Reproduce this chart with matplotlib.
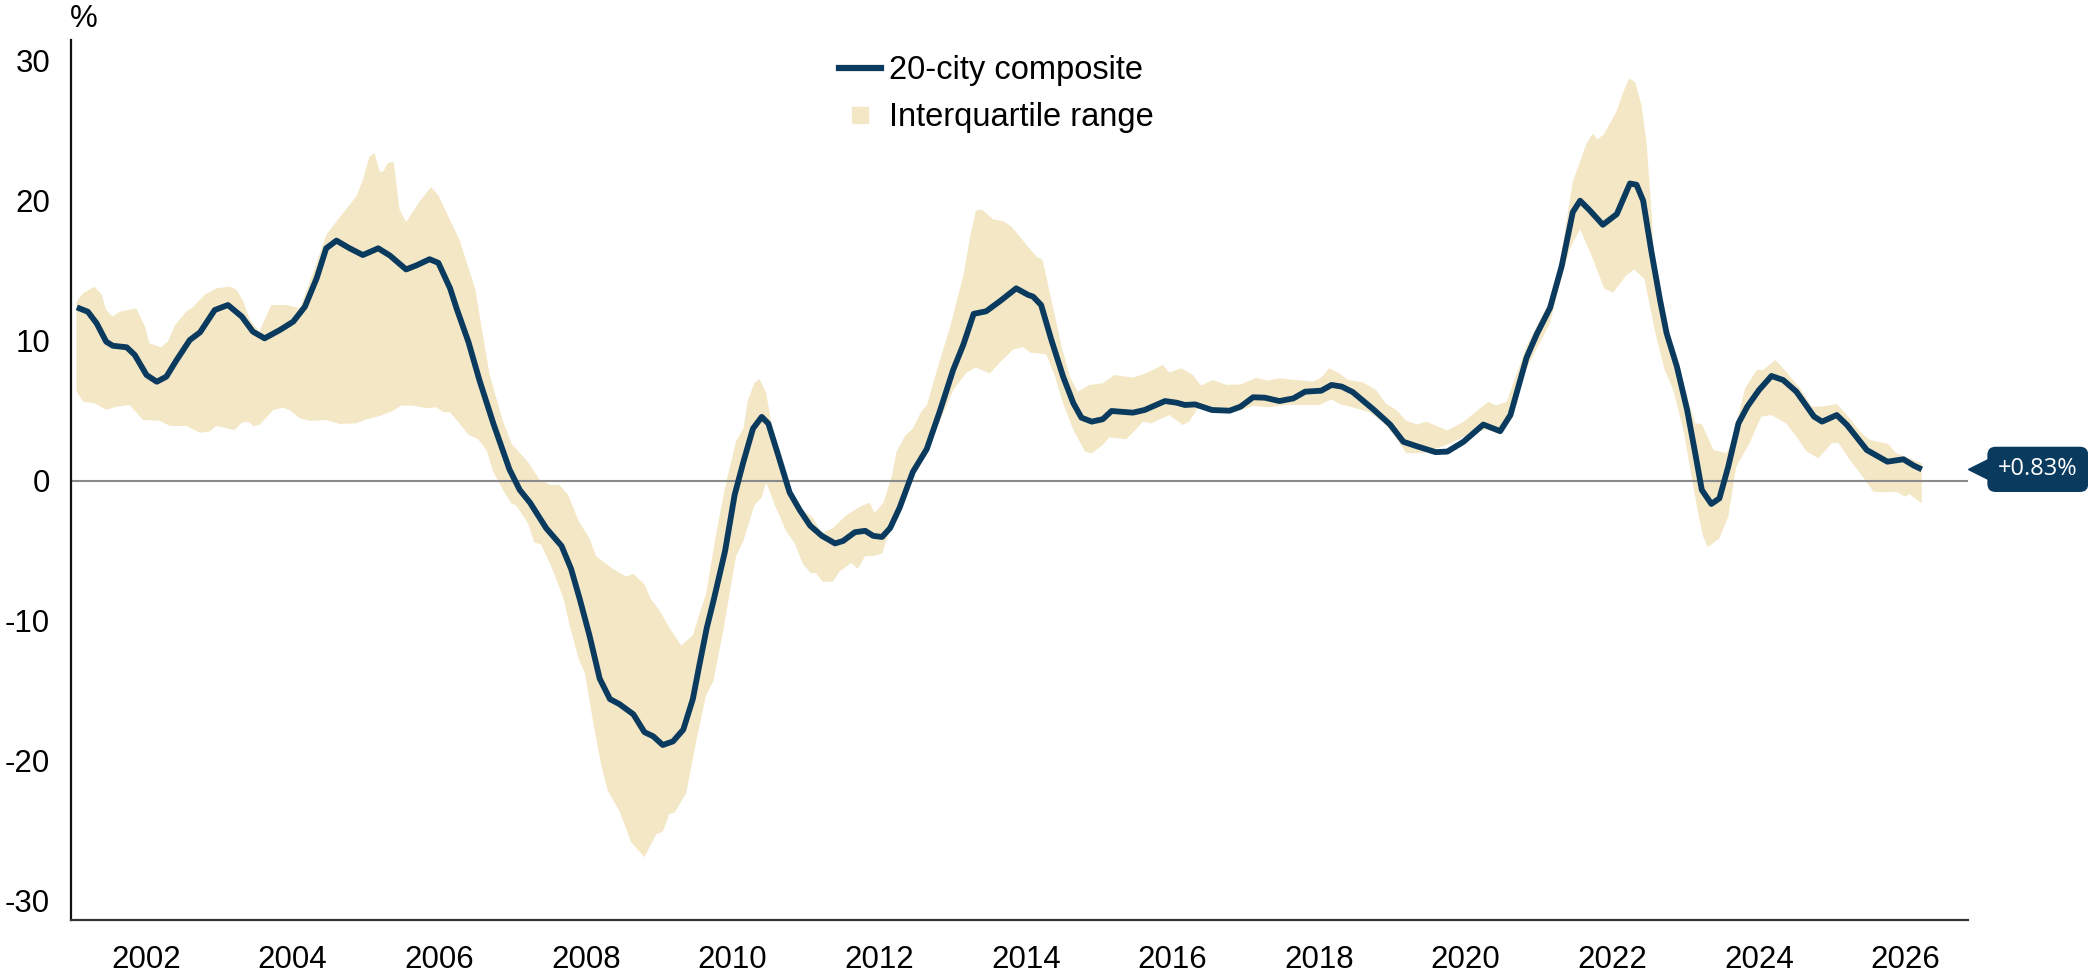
import numpy as np
import matplotlib
matplotlib.use("Agg")
import matplotlib.pyplot as plt
from matplotlib.lines import Line2D
from matplotlib.transforms import blended_transform_factory

plt.rcParams['font.family'] = ['Liberation Sans', 'DejaVu Sans']

NAVY = '#0b3a5f'
SAND = '#f3e7c5'

# 20-city composite, y/y % (x = fractional year)
comp_x = [2001.06, 2001.21, 2001.33, 2001.46, 2001.55, 2001.74, 2001.85, 2002.01, 2002.15, 2002.28,
          2002.42, 2002.60, 2002.74, 2002.94, 2003.12, 2003.31, 2003.46, 2003.62, 2003.83, 2004.01,
          2004.17, 2004.33, 2004.46, 2004.60, 2004.78, 2004.96, 2005.17, 2005.33, 2005.55, 2005.69,
          2005.87, 2005.99, 2006.15, 2006.24, 2006.40, 2006.55, 2006.74, 2006.96, 2007.10, 2007.24,
          2007.46, 2007.67, 2007.80, 2007.92, 2008.05, 2008.19, 2008.33, 2008.46, 2008.65, 2008.80,
          2008.92, 2009.05, 2009.19, 2009.33, 2009.46, 2009.555, 2009.65, 2009.74, 2009.90, 2010.03,
          2010.15, 2010.28, 2010.40, 2010.49, 2010.62, 2010.78, 2010.92, 2011.06, 2011.22, 2011.40,
          2011.51, 2011.67, 2011.81, 2011.92, 2012.04, 2012.15, 2012.28, 2012.46, 2012.65, 2012.83,
          2013.01, 2013.15, 2013.29, 2013.46, 2013.65, 2013.87, 2014.03, 2014.10, 2014.21, 2014.35,
          2014.51, 2014.65, 2014.76, 2014.90, 2015.05, 2015.17, 2015.46, 2015.62, 2015.90, 2016.06,
          2016.17, 2016.31, 2016.54, 2016.78, 2016.93, 2017.10, 2017.26, 2017.46, 2017.65, 2017.81,
          2018.03, 2018.17, 2018.31, 2018.46, 2018.74, 2018.97, 2019.15, 2019.34, 2019.59, 2019.75,
          2019.97, 2020.24, 2020.47, 2020.61, 2020.83, 2020.97, 2021.15, 2021.31, 2021.46, 2021.56,
          2021.69, 2021.87, 2022.06, 2022.24, 2022.33, 2022.42, 2022.53, 2022.65, 2022.74, 2022.88,
          2023.02, 2023.13, 2023.22, 2023.35, 2023.46, 2023.58, 2023.72, 2023.84, 2024.00, 2024.17,
          2024.33, 2024.51, 2024.75, 2024.86, 2025.06, 2025.20, 2025.47, 2025.75, 2025.97, 2026.11,
          2026.22]
comp_y = [12.4, 12.09, 11.26, 9.95, 9.66, 9.55, 9.0, 7.57, 7.09, 7.45,
          8.64, 10.07, 10.62, 12.21, 12.57, 11.74, 10.67, 10.19, 10.79, 11.38,
          12.45, 14.48, 16.62, 17.17, 16.62, 16.14, 16.62, 16.1, 15.11, 15.4,
          15.84, 15.58, 13.76, 12.3, 9.93, 7.2, 4.1, 0.82, -0.64, -1.55,
          -3.37, -4.64, -6.28, -8.47, -11.02, -14.12, -15.58, -15.94, -16.67, -17.94,
          -18.24, -18.86, -18.6, -17.76, -15.58, -13.0, -10.5, -8.6, -5.0, -1.0,
          1.37, 3.74, 4.58, 4.1, 1.92, -0.82, -2.09, -3.19, -3.92, -4.46,
          -4.28, -3.66, -3.56, -3.92, -4.0, -3.37, -1.91, 0.64, 2.28, 5.01,
          7.93, 9.75, 11.94, 12.12, 12.85, 13.76, 13.3, 13.17, 12.57, 10.07,
          7.45, 5.55, 4.52, 4.24, 4.41, 5.0, 4.88, 5.07, 5.71, 5.59,
          5.43, 5.47, 5.07, 5.02, 5.31, 5.98, 5.95, 5.71, 5.9, 6.38,
          6.45, 6.86, 6.74, 6.35, 5.12, 4.03, 2.8, 2.47, 2.06, 2.1,
          2.8, 4.03, 3.56, 4.71, 8.81, 10.5, 12.36, 15.37, 19.2, 20.02,
          19.34, 18.3, 19.06, 21.25, 21.16, 20.02, 16.46, 12.93, 10.55, 8.17,
          5.07, 1.98, -0.64, -1.64, -1.24, 1.02, 4.12, 5.31, 6.5, 7.5,
          7.21, 6.38, 4.6, 4.24, 4.71, 4.0, 2.21, 1.38, 1.55, 1.1,
          0.83]

# interquartile range, upper edge
upper_x = [2001.055, 2001.145, 2001.30, 2001.40, 2001.46, 2001.55, 2001.645, 2001.87, 2001.99, 2002.05,
           2002.21, 2002.30, 2002.40, 2002.55, 2002.65, 2002.80, 2002.96, 2003.15, 2003.24, 2003.33,
           2003.42, 2003.55, 2003.71, 2003.92, 2004.10, 2004.28, 2004.46, 2004.65, 2004.87, 2004.96,
           2005.05, 2005.12, 2005.19, 2005.24, 2005.30, 2005.38, 2005.46, 2005.55, 2005.74, 2005.89,
           2005.99, 2006.08, 2006.28, 2006.49, 2006.69, 2006.87, 2006.99, 2007.21, 2007.37, 2007.51,
           2007.64, 2007.76, 2007.90, 2008.05, 2008.14, 2008.37, 2008.55, 2008.65, 2008.80, 2008.89,
           2009.00, 2009.14, 2009.30, 2009.46, 2009.555, 2009.64, 2009.78, 2009.90, 2010.05, 2010.15,
           2010.21, 2010.30, 2010.37, 2010.46, 2010.55, 2010.67, 2010.80, 2010.92, 2011.10, 2011.22,
           2011.37, 2011.55, 2011.74, 2011.87, 2011.94, 2012.06, 2012.17, 2012.24, 2012.35, 2012.46,
           2012.58, 2012.65, 2012.81, 2012.97, 2013.15, 2013.24, 2013.32, 2013.40, 2013.56, 2013.69,
           2013.80, 2013.92, 2014.01, 2014.15, 2014.23, 2014.33, 2014.49, 2014.60, 2014.71, 2014.87,
           2015.05, 2015.21, 2015.46, 2015.64, 2015.87, 2015.96, 2016.12, 2016.28, 2016.39, 2016.55,
           2016.74, 2016.93, 2017.15, 2017.29, 2017.46, 2017.69, 2017.92, 2018.03, 2018.14, 2018.28,
           2018.39, 2018.60, 2018.78, 2018.91, 2019.06, 2019.19, 2019.34, 2019.46, 2019.75, 2019.97,
           2020.15, 2020.31, 2020.42, 2020.56, 2020.83, 2021.15, 2021.28, 2021.46, 2021.65, 2021.73,
           2021.80, 2021.89, 2022.06, 2022.15, 2022.23, 2022.31, 2022.40, 2022.47, 2022.53, 2022.58,
           2022.65, 2022.74, 2022.88, 2022.97, 2023.06, 2023.13, 2023.22, 2023.38, 2023.56, 2023.65,
           2023.81, 2023.97, 2024.06, 2024.22, 2024.33, 2024.56, 2024.72, 2024.86, 2025.06, 2025.20,
           2025.40, 2025.51, 2025.76, 2025.87, 2026.05, 2026.22]
upper_y = [12.81, 13.4, 13.88, 13.29, 12.21, 11.74, 12.09, 12.33, 11.02, 9.83,
           9.55, 9.95, 11.14, 12.09, 12.45, 13.29, 13.76, 13.88, 13.64, 12.81,
           11.5, 10.67, 12.57, 12.57, 12.33, 14.83, 17.57, 18.88, 20.31, 21.5,
           23.17, 23.4, 22.1, 22.1, 22.7, 22.8, 19.4, 18.5, 20.0, 21.0,
           20.4, 19.4, 17.2, 13.76, 7.56, 4.29, 2.64, 1.37, 0.09, -0.27,
           -0.27, -1.0, -2.82, -4.1, -5.37, -6.28, -6.83, -6.64, -7.38, -8.47,
           -9.2, -10.48, -11.75, -11.02, -9.4, -8.11, -3.74, -0.45, 2.83, 3.74,
           5.74, 7.01, 7.27, 6.29, 3.56, 0.64, -1.36, -1.91, -2.64, -3.74,
           -3.37, -2.46, -1.84, -1.55, -2.28, -1.55, 0.28, 2.1, 3.19, 3.74,
           5.01, 5.38, 8.29, 11.03, 14.67, 17.4, 19.3, 19.4, 18.68, 18.57,
           18.2, 17.45, 16.86, 16.02, 15.79, 13.4, 9.6, 7.45, 6.38, 6.86,
           6.98, 7.57, 7.38, 7.69, 8.29, 7.74, 8.05, 7.57, 6.81, 7.21,
           6.86, 6.9, 7.38, 7.16, 7.33, 7.21, 7.09, 7.38, 8.05, 7.69,
           7.23, 7.04, 6.49, 5.53, 5.04, 4.3, 4.03, 4.24, 3.61, 4.22,
           4.99, 5.66, 5.39, 5.66, 9.63, 12.91, 15.37, 21.39, 24.12, 24.8,
           24.39, 24.8, 26.44, 27.8, 28.76, 28.5, 26.8, 24.0, 19.5, 15.0,
           13.2, 10.8, 8.88, 6.98, 5.31, 4.12, 4.07, 2.21, 1.98, 3.17,
           6.62, 7.93, 7.93, 8.64, 8.05, 6.62, 5.31, 5.31, 5.5, 4.71,
           3.4, 2.93, 2.64, 1.98, 1.62, 1.26]

# interquartile range, lower edge
lower_x = [2001.055, 2001.145, 2001.30, 2001.46, 2001.60, 2001.78, 2001.96, 2002.19, 2002.33, 2002.55,
           2002.74, 2002.87, 2002.96, 2003.21, 2003.31, 2003.40, 2003.46, 2003.55, 2003.74, 2003.87,
           2003.96, 2004.10, 2004.24, 2004.46, 2004.65, 2004.87, 2005.01, 2005.19, 2005.37, 2005.48,
           2005.64, 2005.83, 2005.96, 2006.05, 2006.15, 2006.28, 2006.40, 2006.53, 2006.65, 2006.74,
           2006.89, 2006.99, 2007.05, 2007.21, 2007.30, 2007.39, 2007.53, 2007.69, 2007.78, 2007.90,
           2007.99, 2008.10, 2008.21, 2008.30, 2008.46, 2008.62, 2008.80, 2008.96, 2009.05, 2009.14,
           2009.21, 2009.37, 2009.51, 2009.64, 2009.74, 2009.87, 2010.05, 2010.15, 2010.30, 2010.40,
           2010.46, 2010.58, 2010.73, 2010.85, 2010.96, 2011.07, 2011.14, 2011.23, 2011.37, 2011.46,
           2011.62, 2011.71, 2011.81, 2011.92, 2012.04, 2012.19, 2012.33, 2012.46, 2012.65, 2012.83,
           2013.01, 2013.19, 2013.32, 2013.51, 2013.65, 2013.83, 2013.96, 2014.06, 2014.28, 2014.40,
           2014.51, 2014.65, 2014.81, 2014.90, 2015.05, 2015.14, 2015.37, 2015.46, 2015.60, 2015.71,
           2015.96, 2016.14, 2016.23, 2016.36, 2016.64, 2016.87, 2017.10, 2017.32, 2017.55, 2018.01,
           2018.17, 2018.28, 2018.46, 2018.69, 2018.87, 2019.02, 2019.19, 2019.42, 2019.75, 2019.97,
           2020.29, 2020.47, 2020.56, 2020.70, 2020.93, 2021.15, 2021.28, 2021.42, 2021.56, 2021.73,
           2021.89, 2022.01, 2022.19, 2022.30, 2022.44, 2022.58, 2022.71, 2022.83, 2022.97, 2023.08,
           2023.17, 2023.24, 2023.30, 2023.46, 2023.58, 2023.69, 2023.87, 2024.03, 2024.17, 2024.37,
           2024.51, 2024.65, 2024.81, 2024.99, 2025.08, 2025.24, 2025.38, 2025.56, 2025.69, 2025.87,
           2025.99, 2026.05, 2026.22]
lower_y = [6.4, 5.66, 5.55, 5.1, 5.3, 5.43, 4.36, 4.3, 3.93, 3.93,
           3.45, 3.52, 3.93, 3.64, 4.16, 4.24, 3.93, 4.0, 5.07, 5.24,
           5.07, 4.48, 4.29, 4.36, 4.07, 4.12, 4.4, 4.64, 5.0, 5.38,
           5.38, 5.19, 5.27, 4.94, 4.9, 4.1, 3.3, 3.0, 2.17, 0.64,
           -0.82, -1.62, -1.73, -3.0, -4.39, -4.54, -6.1, -8.29, -10.29, -12.66,
           -13.76, -17.2, -20.3, -22.1, -23.6, -25.8, -26.87, -25.24, -25.05, -23.78,
           -23.7, -22.3, -18.5, -15.3, -14.3, -10.84, -5.37, -4.28, -1.73, -1.18,
           -0.09, -1.73, -3.55, -4.46, -5.92, -6.58, -6.58, -7.2, -7.2, -6.47,
           -5.85, -6.28, -5.37, -5.37, -5.19, -2.82, -1.36, 0.28, 2.17, 4.29,
           6.47, 7.74, 8.11, 7.67, 8.48, 9.39, 9.57, 9.17, 9.05, 7.45,
           5.55, 3.64, 2.09, 1.98, 2.57, 3.12, 2.98, 3.45, 4.24, 4.12,
           4.71, 4.0, 4.24, 5.31, 5.17, 4.95, 5.36, 5.27, 5.43, 5.43,
           5.83, 5.5, 5.26, 4.9, 4.2, 3.3, 1.99, 1.99, 2.6, 3.14,
           3.7, 3.3, 3.9, 6.62, 9.08, 11.27, 14.0, 16.6, 17.97, 15.92,
           13.73, 13.46, 14.69, 15.1, 14.41, 10.72, 8.0, 6.5, 3.64, 0.31,
           -2.31, -3.98, -4.74, -4.1, -2.55, 1.02, 2.69, 4.6, 4.71, 4.12,
           3.17, 2.1, 1.62, 2.69, 2.74, 1.5, 0.55, -0.76, -0.81, -0.76,
           -1.12, -0.93, -1.6]

tick_years = [2002, 2004, 2006, 2008, 2010, 2012, 2014, 2016, 2018, 2020, 2022, 2024, 2026]
y_ticks = [-30, -20, -10, 0, 10, 20, 30]

W, H = 2088, 972
fig = plt.figure(figsize=(W / 100, H / 100), dpi=100)
ax = fig.add_axes([71 / W, 52 / H, (1968 - 71) / W, 880 / H])

# band as one polygon: upper edge forward, lower edge back
band_x = np.concatenate([upper_x, lower_x[::-1]])
band_y = np.concatenate([upper_y, lower_y[::-1]])
ax.fill(band_x, band_y, color=SAND, lw=0, zorder=1)
ax.axhline(0, color='#8a8a8a', lw=1.5, zorder=2)
ax.plot(comp_x, comp_y, color=NAVY, lw=4.2, zorder=3,
        solid_capstyle='butt', solid_joinstyle='round')

ax.set_xlim(2000.98, 2026.85)
ax.set_ylim(-31.36, 31.5)
ax.set_xticks(tick_years)
ax.set_xticklabels([str(y) for y in tick_years])
ax.set_yticks(y_ticks)
ax.set_yticklabels([str(v) for v in y_ticks])
ax.tick_params(axis='both', length=0, labelsize=22.5)
ax.tick_params(axis='y', pad=15)
ax.tick_params(axis='x', pad=18)
for s in ['top', 'right']:
    ax.spines[s].set_visible(False)
ax.spines['left'].set_linewidth(1.6)
ax.spines['left'].set_color('#111111')
ax.spines['bottom'].set_linewidth(1.6)
ax.spines['bottom'].set_color('#333333')

fig.text(84 / W, 1 - 19 / H, '%', ha='center', va='center', fontsize=22.5)

handles = [Line2D([0], [0], color=NAVY, lw=4.5),
           Line2D([0], [0], marker='s', ls='none', ms=12, mfc=SAND, mec=SAND)]
ax.legend(handles, ['20-city composite', 'Interquartile range'],
          loc='upper left', bbox_to_anchor=((839 - 71) / 1897, (920 - 55) / 880),
          frameon=False, fontsize=23.5, borderpad=0, borderaxespad=0,
          handlelength=1.3, handletextpad=0.22, labelspacing=0.5)

# value tag at the right edge
last = comp_y[-1]
trans = blended_transform_factory(ax.transAxes, ax.transData)
ax.plot([1.0053], [last], marker='<', ms=15, color=NAVY, transform=trans, clip_on=False)
ax.text(1.0368, last, f"+{last:.2f}%", transform=trans, ha='center', va='center',
        color='white', fontsize=17, family=['Open Sans', 'DejaVu Sans'],
        bbox=dict(boxstyle='round,pad=0.45,rounding_size=0.35', fc=NAVY, ec='none'),
        clip_on=False)

fig.savefig('out.png', dpi=100)
